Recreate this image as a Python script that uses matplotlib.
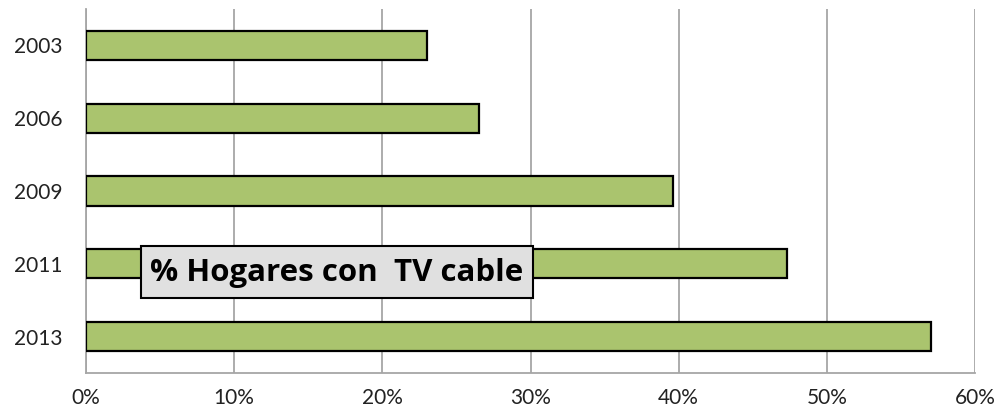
import matplotlib
matplotlib.use("Agg")
import matplotlib.pyplot as plt
from matplotlib.patches import Rectangle
from matplotlib.ticker import FuncFormatter

# ── Datos ─────────────────────────────────────────────────────────────────────
years = ["2003", "2006", "2009", "2011", "2013"]
hogares_tv_cable = [23.0, 26.5, 39.6, 47.3, 57.0]
x_ticks = [0, 10, 20, 30, 40, 50, 60]
titulo = "% Hogares con  TV cable"

plt.rcParams["font.family"] = ["Lato", "DejaVu Sans"]

W, H = 1008, 415
fig = plt.figure(figsize=(W / 100, H / 100), dpi=100)
ax = fig.add_axes([86 / W, 1 - 373 / H, 889 / W, 364 / H])

pos = list(range(len(years)))
ax.barh(pos, hogares_tv_cable, height=0.4, color="#AAC46E",
        edgecolor="black", linewidth=1.6, zorder=3)

ax.set_xlim(0, 60)
ax.set_ylim(len(years) - 0.5, -0.5)
ax.set_yticks(pos)
ax.set_yticklabels(years)
ax.set_xticks(x_ticks)
ax.xaxis.set_major_formatter(FuncFormatter(lambda v, _: f"{v:.0f}%"))
ax.tick_params(axis="both", length=0, labelsize=15, colors="#222222")
ax.tick_params(axis="y", pad=17)
ax.tick_params(axis="x", pad=11)

ax.grid(axis="x", color="#A6A6A6", linewidth=1.3, zorder=0)
for side in ["top", "right"]:
    ax.spines[side].set_visible(False)
for side in ["left", "bottom"]:
    ax.spines[side].set_color("#A6A6A6")
    ax.spines[side].set_linewidth(1.3)

# recuadro del título
box = Rectangle((141 / W, 1 - 298 / H), 392 / W, 52 / H, transform=fig.transFigure,
                facecolor="#E0E0E0", edgecolor="black", linewidth=1.5, zorder=5)
fig.add_artist(box)
fig.text(337 / W, 1 - 273 / H, titulo, ha="center", va="center",
         fontsize=22.5, fontweight="bold",
         family=["Open Sans", "DejaVu Sans"], zorder=6)

fig.savefig("out.png", dpi=100)
